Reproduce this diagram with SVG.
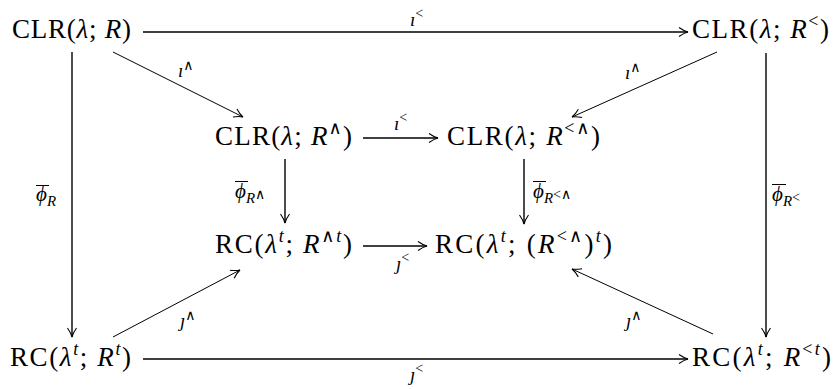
<svg xmlns="http://www.w3.org/2000/svg" width="834" height="389" viewBox="0 0 834 389">
<style>
text{font-family:'Liberation Serif','DejaVu Serif',serif;fill:#000}
.n{font-size:27px}
.i{font-style:italic}
.s{font-size:18px}
.w{font-family:'DejaVu Serif',serif;font-style:normal}
.lb{font-size:19px;font-style:italic}
.ls{font-size:14px;font-style:normal}
.c{fill:none;stroke:#000;stroke-width:1.4}
.d{fill:none;stroke:#000;stroke-width:1}
.ob{stroke:#000;stroke-width:1}
</style>
<defs>
<marker id="ah" markerUnits="userSpaceOnUse" markerWidth="14" markerHeight="14" viewBox="-11 -7 14 14" refX="0" refY="0" orient="auto" overflow="visible">
<path d="M-9,-4.5 Q-4,-1 0,0 Q-4,1 -9,4.5" fill="none" stroke="#000" stroke-width="1.1"/>
</marker>
</defs>
<g id="connectors">
<line class="c" x1="143" y1="32" x2="688" y2="32" marker-end="url(#ah)"/>
<line class="c" x1="72" y1="52" x2="72" y2="337" marker-end="url(#ah)"/>
<line class="c" x1="766" y1="53" x2="766" y2="337" marker-end="url(#ah)"/>
<line class="c" x1="143" y1="359" x2="688" y2="359" marker-end="url(#ah)"/>
<line class="d" x1="113" y1="52" x2="243" y2="117" marker-end="url(#ah)"/>
<line class="d" x1="717" y1="52" x2="572" y2="117" marker-end="url(#ah)"/>
<line class="c" x1="363" y1="138" x2="438" y2="138" marker-end="url(#ah)"/>
<line class="c" x1="285" y1="159" x2="285" y2="223" marker-end="url(#ah)"/>
<line class="c" x1="524" y1="159" x2="524" y2="224" marker-end="url(#ah)"/>
<line class="c" x1="363" y1="246" x2="427" y2="246" marker-end="url(#ah)"/>
<line class="d" x1="113" y1="337" x2="240" y2="270" marker-end="url(#ah)"/>
<line class="d" x1="713" y1="334" x2="572" y2="269" marker-end="url(#ah)"/>
</g>
<g id="labels">
<text class="lb" x="410" y="26">ı<tspan class="ls" dy="-8">&lt;</tspan></text>
<text class="lb" x="178" y="77">ı<tspan class="ls w" dy="-7">∧</tspan></text>
<text class="lb" x="625" y="79">ı<tspan class="ls w" dy="-7">∧</tspan></text>
<text class="lb" x="394" y="130">ı<tspan class="ls" dy="-8">&lt;</tspan></text>
<text class="lb" x="396" y="270">ȷ<tspan class="ls" dy="-8">&lt;</tspan></text>
<text class="lb" x="180" y="327">ȷ<tspan class="ls w" dy="-7">∧</tspan></text>
<text class="lb" x="626" y="327">ȷ<tspan class="ls w" dy="-7">∧</tspan></text>
<text class="lb" x="410" y="381">ȷ<tspan class="ls" dy="-8">&lt;</tspan></text>
<g id="phiR">
<line class="ob" x1="36" y1="185.5" x2="49" y2="185.5"/>
<text class="lb" x="36" y="201" style="font-size:21px">ϕ<tspan style="font-size:15px" dy="5">R</tspan></text>
</g>
<g id="phiRw">
<line class="ob" x1="235" y1="181.5" x2="248" y2="181.5"/>
<text class="lb" x="235" y="198" style="font-size:21px">ϕ<tspan style="font-size:15px" dy="5">R</tspan><tspan class="ls w" dy="-4">∧</tspan></text>
</g>
<g id="phiRlw">
<line class="ob" x1="533" y1="181.5" x2="546" y2="181.5"/>
<text class="lb" x="533" y="198" style="font-size:21px">ϕ<tspan style="font-size:15px" dy="5">R</tspan><tspan class="ls" dy="-4">&lt;</tspan><tspan class="ls w">∧</tspan></text>
</g>
<g id="phiRl">
<line class="ob" x1="772" y1="184.5" x2="786" y2="184.5"/>
<text class="lb" x="772" y="201" style="font-size:21px">ϕ<tspan style="font-size:15px" dy="5">R</tspan><tspan class="ls" dy="-4">&lt;</tspan></text>
</g>
</g>
<g id="n-clr-r">
<text class="n" x="12" y="38" textLength="119" lengthAdjust="spacing">CLR(<tspan class="i">λ</tspan>; <tspan class="i">R</tspan>)</text>
</g>
<g id="n-clr-rl">
<text class="n" x="692" y="38" textLength="137" lengthAdjust="spacing">CLR(<tspan class="i">λ</tspan>; <tspan class="i">R</tspan><tspan class="s" dy="-11">&lt;</tspan><tspan dy="11">)</tspan></text>
</g>
<g id="n-clr-rw">
<text class="n" x="215" y="145" textLength="137" lengthAdjust="spacing">CLR(<tspan class="i">λ</tspan>; <tspan class="i">R</tspan><tspan class="s w" dy="-11">∧</tspan><tspan dy="11">)</tspan></text>
</g>
<g id="n-clr-rlw">
<text class="n" x="447" y="145" textLength="153" lengthAdjust="spacing">CLR(<tspan class="i">λ</tspan>; <tspan class="i">R</tspan><tspan class="s" dy="-11">&lt;</tspan><tspan class="s w">∧</tspan><tspan dy="11">)</tspan></text>
</g>
<g id="n-rc-rwt">
<text class="n" x="215" y="253" textLength="137" lengthAdjust="spacing">RC(<tspan class="i">λ</tspan><tspan class="s i" dy="-11">t</tspan><tspan dy="11">; </tspan><tspan class="i">R</tspan><tspan class="s w" dy="-11">∧</tspan><tspan class="s i">t</tspan><tspan dy="11">)</tspan></text>
</g>
<g id="n-rc-rlwt">
<text class="n" x="435" y="253" textLength="177" lengthAdjust="spacing">RC(<tspan class="i">λ</tspan><tspan class="s i" dy="-11">t</tspan><tspan dy="11">; (</tspan><tspan class="i">R</tspan><tspan class="s" dy="-11">&lt;</tspan><tspan class="s w">∧</tspan><tspan dy="11">)</tspan><tspan class="s i" dy="-11">t</tspan><tspan dy="11">)</tspan></text>
</g>
<g id="n-rc-rt">
<text class="n" x="10" y="366" textLength="121" lengthAdjust="spacing">RC(<tspan class="i">λ</tspan><tspan class="s i" dy="-11">t</tspan><tspan dy="11">; </tspan><tspan class="i">R</tspan><tspan class="s i" dy="-11">t</tspan><tspan dy="11">)</tspan></text>
</g>
<g id="n-rc-rlt">
<text class="n" x="692" y="366" textLength="139" lengthAdjust="spacing">RC(<tspan class="i">λ</tspan><tspan class="s i" dy="-11">t</tspan><tspan dy="11">; </tspan><tspan class="i">R</tspan><tspan class="s" dy="-11">&lt;</tspan><tspan class="s i">t</tspan><tspan dy="11">)</tspan></text>
</g>
</svg>
